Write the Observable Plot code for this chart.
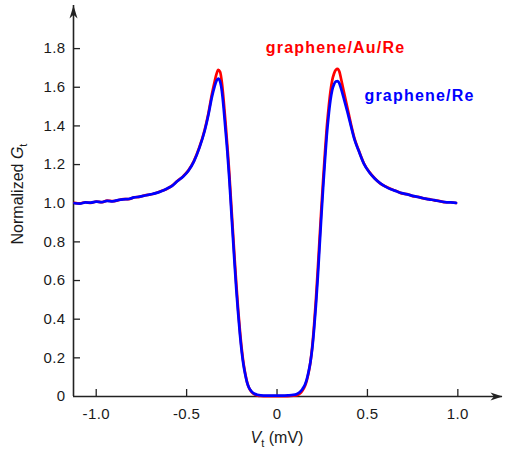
<!DOCTYPE html>
<html><head><meta charset="utf-8">
<script src="https://cdn.jsdelivr.net/npm/d3@7"></script>
<script src="https://cdn.jsdelivr.net/npm/@observablehq/plot@0.6"></script>
<style>body{margin:0;background:#fff} #chart{width:505px;height:449px}</style>
</head><body><div id="chart"></div>
<script>
// Bias voltage V_t (mV)
const vt = [-1.12,-1.09,-1.06,-1.03,-1.0,-0.97,-0.94,-0.91,-0.88,-0.85,-0.82,-0.79,-0.76,-0.73,-0.7,-0.67,-0.64,-0.61,-0.58,-0.55,-0.52,-0.49,-0.46,-0.43,-0.4,-0.38,-0.36,-0.345,-0.335,-0.325,-0.315,-0.305,-0.295,-0.285,-0.275,-0.265,-0.255,-0.245,-0.235,-0.225,-0.215,-0.205,-0.195,-0.185,-0.175,-0.165,-0.155,-0.14,-0.125,-0.11,-0.09,-0.06,-0.03,0,0.03,0.06,0.09,0.11,0.125,0.14,0.155,0.165,0.175,0.185,0.195,0.205,0.215,0.225,0.235,0.245,0.255,0.265,0.275,0.285,0.295,0.305,0.315,0.325,0.335,0.345,0.355,0.37,0.39,0.41,0.43,0.45,0.48,0.51,0.54,0.57,0.6,0.63,0.66,0.69,0.72,0.75,0.78,0.81,0.84,0.87,0.9,0.93,0.96,0.99];
// Normalized G_t, graphene/Au/Re (red)
const gAuRe = [1.002,0.999,1.005,1.002,1.009,1.005,1.013,1.011,1.015,1.021,1.021,1.031,1.033,1.041,1.045,1.053,1.063,1.074,1.091,1.116,1.139,1.170,1.218,1.288,1.380,1.463,1.565,1.630,1.668,1.690,1.680,1.625,1.530,1.420,1.300,1.170,1.020,0.870,0.720,0.580,0.450,0.340,0.245,0.170,0.115,0.072,0.045,0.022,0.011,0.006,0.003,0.002,0.002,0.002,0.002,0.002,0.004,0.007,0.014,0.030,0.055,0.085,0.125,0.180,0.260,0.370,0.500,0.650,0.810,0.970,1.120,1.260,1.390,1.490,1.575,1.635,1.670,1.690,1.695,1.680,1.640,1.575,1.490,1.405,1.330,1.278,1.207,1.162,1.129,1.103,1.087,1.073,1.063,1.051,1.047,1.037,1.033,1.025,1.021,1.015,1.011,1.005,1.005,1.001];
// Normalized G_t, graphene/Re (blue)
const gRe = [1.000,0.998,1.004,1.003,1.008,1.006,1.012,1.010,1.016,1.020,1.022,1.030,1.034,1.040,1.046,1.052,1.062,1.075,1.090,1.115,1.137,1.168,1.215,1.285,1.375,1.455,1.550,1.605,1.633,1.645,1.630,1.580,1.490,1.380,1.270,1.140,0.990,0.840,0.690,0.550,0.430,0.320,0.230,0.160,0.110,0.070,0.045,0.025,0.014,0.009,0.006,0.005,0.005,0.005,0.005,0.006,0.008,0.013,0.022,0.038,0.062,0.090,0.130,0.180,0.250,0.350,0.470,0.610,0.770,0.930,1.080,1.220,1.350,1.450,1.530,1.585,1.615,1.630,1.632,1.620,1.590,1.540,1.470,1.395,1.325,1.275,1.205,1.160,1.128,1.104,1.086,1.072,1.062,1.052,1.046,1.038,1.032,1.026,1.020,1.016,1.010,1.006,1.004,1.002];
const seriesNames = ["graphene/Au/Re", "graphene/Re"];
const seriesColors = ["#ff0000", "#0000ff"];
const xTicks = [-1, -0.5, 0, 0.5, 1];
const xTickLabels = ["-1.0", "-0.5", "0", "0.5", "1.0"];
const yTicks = [0, 0.2, 0.4, 0.6, 0.8, 1.0, 1.2, 1.4, 1.6, 1.8];
const yTickLabels = ["0", "0.2", "0.4", "0.6", "0.8", "1.0", "1.2", "1.4", "1.6", "1.8"];

const rows = [];
[gAuRe, gRe].forEach((arr, k) => vt.forEach((v, i) => rows.push({series: seriesNames[k], v, g: arr[i]})));

const xDomain = [-1.1256, 1.247];
const yDomain = [0, 2.023];

const stealth = {
  draw(ctx, l) {
    const w = 4;
    ctx.moveTo(0, -l);
    ctx.lineTo(-w, 0);
    ctx.lineTo(0, -l * 0.28);
    ctx.lineTo(w, 0);
    ctx.closePath();
  }
};

const labels = [
  {name: seriesNames[0], v: 0.3236, g: 1.805},
  {name: seriesNames[1], v: 0.788, g: 1.557}
];

const axisColor = "#222";
const chart = Plot.plot({
  width: 505,
  height: 449,
  marginLeft: 73,
  marginRight: 3,
  marginTop: 5,
  marginBottom: 53,
  x: {domain: xDomain},
  y: {domain: yDomain},
  color: {domain: seriesNames, range: seriesColors},
  style: {fontFamily: "'Liberation Sans', Arial, sans-serif", fontSize: "15px", color: "#1a1a1a", background: "white"},
  marks: [
    Plot.ruleY([0], {stroke: axisColor, strokeWidth: 1.6}),
    Plot.ruleX([xDomain[0]], {stroke: axisColor, strokeWidth: 1.6}),
    Plot.tickX(xTicks, {x: d => d, insetTop: 384, stroke: axisColor, strokeWidth: 1.3}),
    Plot.tickY(yTicks.slice(1), {y: d => d, insetRight: 422, stroke: axisColor, strokeWidth: 1.3}),
    Plot.vector([{v: xDomain[1], g: 0}], {x: "v", y: "g", rotate: 90, length: 12, anchor: "end", shape: stealth, fill: axisColor, stroke: "none"}),
    Plot.vector([{v: xDomain[0], g: yDomain[1]}], {x: "v", y: "g", rotate: 0, length: 13, anchor: "end", shape: stealth, fill: axisColor, stroke: "none"}),
    Plot.axisX(xTicks, {tickSize: 0, tickPadding: 12, fontSize: 15, tickFormat: d => xTickLabels[xTicks.indexOf(d)], label: null}),
    Plot.axisY(yTicks, {tickSize: 0, tickPadding: 8, fontSize: 15, tickFormat: d => yTickLabels[yTicks.indexOf(d)], label: null}),
    Plot.line(rows, {x: "v", y: "g", z: "series", stroke: "series", strokeWidth: 2.7, curve: "monotone-x"}),
    Plot.text(labels, {x: "v", y: "g", text: "name", fill: "name", fontSize: 16, fontWeight: "bold", textAnchor: "middle"})
  ]
});
document.getElementById("chart").appendChild(chart);

const svg = d3.select(chart);
svg.selectAll("g[aria-label='text'] text").style("letter-spacing", "1.2px");
svg.selectAll("g[aria-label='x-axis tick label'] text, g[aria-label='y-axis tick label'] text").style("letter-spacing", "0.4px");

// axis titles with italic symbols and subscripts
const xl = svg.append("text").attr("x", 277).attr("y", 443).attr("text-anchor", "middle")
  .attr("font-size", 16).attr("fill", "#1a1a1a");
xl.append("tspan").attr("font-style", "italic").text("V");
xl.append("tspan").attr("font-size", 11).attr("dy", 4).text("t");
xl.append("tspan").attr("dy", -4).text(" (mV)");

const yl = svg.append("text").attr("transform", "translate(23,194) rotate(-90)").attr("text-anchor", "middle")
  .attr("font-size", 16).attr("fill", "#1a1a1a");
yl.append("tspan").text("Normalized ");
yl.append("tspan").attr("font-style", "italic").text("G");
yl.append("tspan").attr("font-size", 11).attr("dy", 4).text("t");
</script>
</body></html>
